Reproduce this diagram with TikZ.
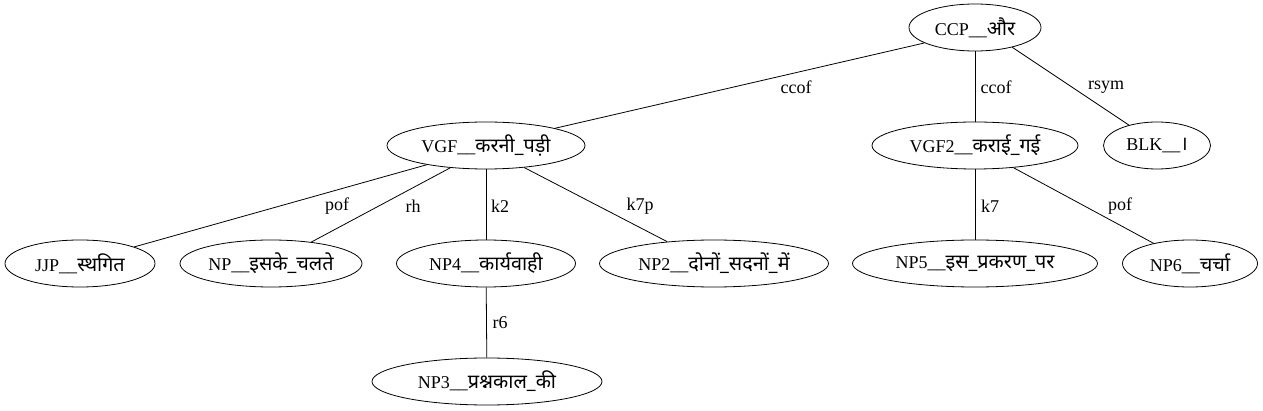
\documentclass[tikz,border=0pt]{standalone}
\usepackage{fontspec}
\setmainfont{Liberation Serif}
\newfontfamily\dev[Script=Devanagari,Scale=1.1]{Noto Sans}
\usetikzlibrary{shapes.geometric}
\begin{document}
\begin{tikzpicture}[x=1pt,y=-1pt,
  nd/.style={draw, ellipse, inner sep=0pt, minimum height=47pt, line width=0.8pt,
    font=\fontsize{18}{20}\selectfont},
  lbl/.style={inner sep=0pt, font=\fontsize{18}{20}\selectfont},
  edge/.style={line width=0.8pt}]
\useasboundingbox (0,0) rectangle (1263,411);
\node[nd, minimum width=132pt] (ccp) at (975,27.5) {CCP\_\_{\dev और}};
\node[nd, minimum width=198pt] (vgf) at (486,145.5) {VGF\_\_{\dev करनी\_पड़ी}};
\node[nd, minimum width=206pt] (vgf2) at (975,145.5) {VGF2\_\_{\dev कराई\_गई}};
\node[nd, minimum width=107pt] (blk) at (1157,145.5) {BLK\_\_{\dev ।}};
\node[nd, minimum width=150pt] (jjp) at (80,263.5) {JJP\_\_{\dev स्थगित}};
\node[nd, minimum width=182pt] (np) at (271,263.5) {NP\_\_{\dev इसके\_चलते}};
\node[nd, minimum width=179pt] (np4) at (486,263.5) {NP4\_\_{\dev कार्यवाही}};
\node[nd, minimum width=229pt] (np2) at (714,263.5) {NP2\_\_{\dev दोनों\_सदनों\_में}};
\node[nd, minimum width=245pt] (np5) at (975,263.5) {NP5\_\_{\dev इस\_प्रकरण\_पर}};
\node[nd, minimum width=135pt] (np6) at (1190,263.5) {NP6\_\_{\dev चर्चा}};
\node[nd, minimum width=230pt] (np3) at (487,381.5) {NP3\_\_{\dev प्रश्नकाल\_की}};
\draw[edge] (ccp.197) -- (vgf.14);
\draw[edge] (ccp) -- (vgf2);
\draw[edge] (ccp.332) -- (blk.144);
\draw[edge] (vgf.198) -- (jjp.17);
\draw[edge] (vgf.212) -- (np.28);
\draw[edge] (vgf) -- (np4);
\draw[edge] (vgf.330) -- (np2.155);
\draw[edge] (vgf2) -- (np5);
\draw[edge] (vgf2.330) -- (np6.151);
\draw[edge] (np4) -- (np3);
\node[lbl] (l1) at (796,87) {ccof};
\node[lbl] (l2) at (996,87) {ccof};
\node[lbl] (l3) at (1106,87) {rsym};
\node[lbl] (l4) at (337,206) {pof};
\node[lbl] (l5) at (413,206) {rh};
\node[lbl] (l6) at (500,206) {k2};
\node[lbl] (l7) at (640,206) {k7p};
\node[lbl] (l8) at (990,206) {k7};
\node[lbl] (l9) at (1120,206) {pof};
\node[lbl] (l10) at (500,323) {r6};
\end{tikzpicture}
\end{document}
